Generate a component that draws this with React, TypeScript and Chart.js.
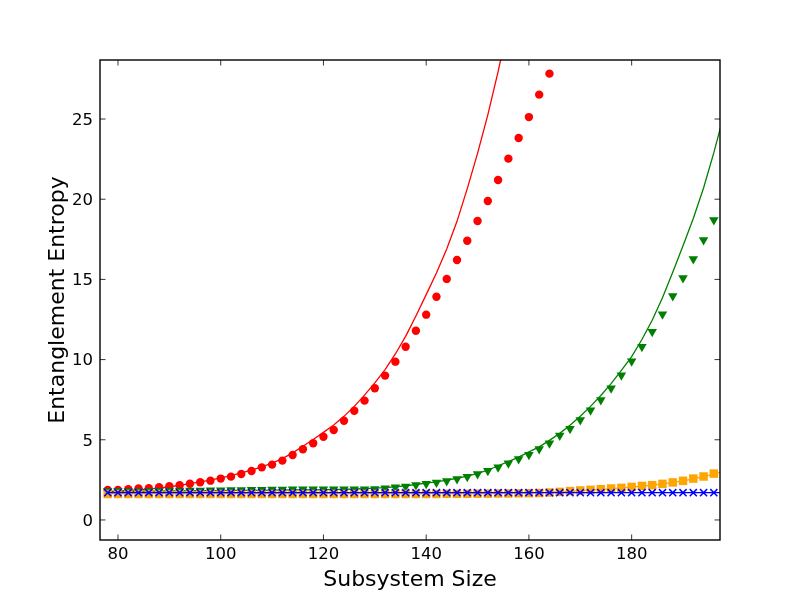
import React, { useEffect, useRef } from 'react';
import { Chart, registerables } from 'chart.js';

Chart.register(...registerables);

// ---- data ----
const xTicks = [80, 100, 120, 140, 160, 180];
const yTicks = [0, 5, 10, 15, 20, 25];

const sizes = [
  78, 80, 82, 84, 86, 88, 90, 92, 94, 96, 98, 100, 102, 104, 106, 108, 110, 112, 114, 116,
  118, 120, 122, 124, 126, 128, 130, 132, 134, 136, 138, 140, 142, 144, 146, 148, 150, 152, 154, 156,
  158, 160, 162, 164, 166, 168, 170, 172, 174, 176, 178, 180, 182, 184, 186, 188, 190, 192, 194, 196,
];
const fitSizes = [
  78, 80, 82, 84, 86, 88, 90, 92, 94, 96, 98, 100, 102, 104, 106, 108, 110, 112, 114, 116,
  118, 120, 122, 124, 126, 128, 130, 132, 134, 136, 138, 140, 142, 144, 146, 148, 150, 152, 154, 156,
  158, 160, 162, 164, 166, 168, 170, 172, 174, 176, 178, 180, 182, 184, 186, 188, 190, 192, 194, 196, 198,
];

const redPoints = [
  1.87, 1.87, 1.91, 1.96, 1.98, 2.04, 2.10, 2.16, 2.26, 2.35, 2.45, 2.58, 2.70, 2.87, 3.05, 3.28, 3.45, 3.70, 4.05, 4.41,
  4.78, 5.19, 5.61, 6.19, 6.81, 7.44, 8.21, 9.00, 9.87, 10.80, 11.80, 12.80, 13.92, 15.03, 16.21, 17.41, 18.64, 19.89, 21.20, 22.53,
  23.82, 25.12, 26.52, 27.83,
];
const redFit = [
  1.77, 1.80, 1.84, 1.88, 1.93, 1.99, 2.07, 2.16, 2.26, 2.37, 2.49, 2.62, 2.77, 2.93, 3.11, 3.31, 3.54, 3.82, 4.18, 4.60,
  5.02, 5.46, 5.92, 6.46, 7.08, 7.78, 8.55, 9.38, 10.35, 11.45, 12.72, 14.05, 15.40, 16.90, 18.62, 20.66, 22.86, 25.26, 27.96, 30.90,
];

const greenPoints = [
  1.80, 1.80, 1.81, 1.81, 1.82, 1.82, 1.83, 1.83, 1.84, 1.84, 1.85, 1.85, 1.86, 1.87, 1.88, 1.89, 1.90, 1.90, 1.91, 1.91,
  1.91, 1.91, 1.91, 1.91, 1.91, 1.92, 1.93, 1.98, 2.04, 2.08, 2.18, 2.26, 2.33, 2.43, 2.56, 2.70, 2.87, 3.07, 3.28, 3.53,
  3.80, 4.07, 4.43, 4.78, 5.26, 5.69, 6.23, 6.84, 7.48, 8.21, 9.02, 9.89, 10.80, 11.74, 12.82, 13.97, 15.09, 16.27, 17.46, 18.70,
];
const greenFit = [
  1.78, 1.78, 1.79, 1.79, 1.80, 1.80, 1.81, 1.81, 1.82, 1.82, 1.83, 1.83, 1.84, 1.84, 1.85, 1.85, 1.86, 1.86, 1.87, 1.87,
  1.88, 1.89, 1.90, 1.91, 1.93, 1.95, 1.98, 2.02, 2.07, 2.13, 2.21, 2.30, 2.38, 2.48, 2.60, 2.74, 2.90, 3.10, 3.38, 3.64,
  3.92, 4.24, 4.56, 4.96, 5.40, 5.90, 6.47, 7.08, 7.76, 8.50, 9.33, 10.18, 11.25, 12.45, 13.85, 15.45, 17.10, 18.80, 20.70, 22.90, 25.30,
];

const orangePoints = [
  1.62, 1.62, 1.62, 1.62, 1.62, 1.62, 1.62, 1.62, 1.62, 1.62, 1.62, 1.62, 1.62, 1.62, 1.62, 1.62, 1.62, 1.62, 1.62, 1.62,
  1.62, 1.62, 1.62, 1.62, 1.62, 1.62, 1.62, 1.62, 1.62, 1.62, 1.62, 1.62, 1.62, 1.63, 1.63, 1.63, 1.64, 1.64, 1.65, 1.65,
  1.66, 1.67, 1.68, 1.71, 1.75, 1.80, 1.84, 1.88, 1.92, 1.96, 2.00, 2.06, 2.12, 2.17, 2.25, 2.34, 2.44, 2.58, 2.71, 2.89,
];
const orangeFit = [
  1.64, 1.64, 1.64, 1.64, 1.64, 1.64, 1.64, 1.64, 1.64, 1.64, 1.64, 1.64, 1.64, 1.64, 1.64, 1.64, 1.64, 1.64, 1.64, 1.64,
  1.64, 1.64, 1.64, 1.64, 1.64, 1.64, 1.64, 1.64, 1.64, 1.64, 1.64, 1.64, 1.64, 1.64, 1.64, 1.65, 1.65, 1.65, 1.66, 1.67,
  1.67, 1.68, 1.70, 1.72, 1.75, 1.79, 1.83, 1.87, 1.91, 1.95, 2.00, 2.05, 2.11, 2.18, 2.25, 2.34, 2.44, 2.56, 2.70, 2.86, 3.04,
];

const bluePoints = [
  1.70, 1.70, 1.70, 1.70, 1.70, 1.70, 1.70, 1.70, 1.70, 1.70, 1.70, 1.70, 1.70, 1.70, 1.70, 1.70, 1.70, 1.70, 1.70, 1.70,
  1.70, 1.70, 1.70, 1.70, 1.70, 1.70, 1.70, 1.70, 1.70, 1.70, 1.70, 1.70, 1.70, 1.70, 1.70, 1.70, 1.70, 1.70, 1.70, 1.70,
  1.70, 1.70, 1.70, 1.70, 1.70, 1.70, 1.70, 1.70, 1.70, 1.70, 1.70, 1.70, 1.70, 1.70, 1.70, 1.70, 1.70, 1.70, 1.70, 1.70,
];
const blueFit = [
  1.70, 1.70, 1.70, 1.70, 1.70, 1.70, 1.70, 1.70, 1.70, 1.70, 1.70, 1.70, 1.70, 1.70, 1.70, 1.70, 1.70, 1.70, 1.70, 1.70,
  1.70, 1.70, 1.70, 1.70, 1.70, 1.70, 1.70, 1.70, 1.70, 1.70, 1.70, 1.70, 1.70, 1.70, 1.70, 1.70, 1.70, 1.70, 1.70, 1.70,
  1.70, 1.70, 1.70, 1.70, 1.70, 1.70, 1.70, 1.70, 1.70, 1.70, 1.70, 1.70, 1.70, 1.70, 1.70, 1.70, 1.70, 1.70, 1.70, 1.70, 1.70,
];

const xLabel = 'Subsystem Size';
const yLabel = 'Entanglement Entropy';

const pair = (xs: number[], ys: number[]) => ys.map((y, i) => ({ x: xs[i], y }));

const FONT = '"DejaVu Sans", "Liberation Sans", sans-serif';

const framePlugin = {
  id: 'mplFrame',
  afterDraw(chart: any) {
    const { ctx, chartArea, scales } = chart;
    const { left, right, top, bottom } = chartArea;
    const tl = 5.5;
    ctx.save();
    ctx.strokeStyle = '#000';
    ctx.lineWidth = 0.8;
    ctx.beginPath();
    for (const v of xTicks) {
      const px = scales.x.getPixelForValue(v);
      ctx.moveTo(px, bottom);
      ctx.lineTo(px, bottom - tl);
      ctx.moveTo(px, top);
      ctx.lineTo(px, top + tl);
    }
    for (const v of yTicks) {
      const py = scales.y.getPixelForValue(v);
      ctx.moveTo(left, py);
      ctx.lineTo(left + tl, py);
      ctx.moveTo(right, py);
      ctx.lineTo(right - tl, py);
    }
    ctx.stroke();
    ctx.lineWidth = 1.4;
    ctx.strokeRect(left, top, right - left, bottom - top);
    ctx.restore();
  },
};

export default function App() {
  const ref = useRef<HTMLCanvasElement | null>(null);

  useEffect(() => {
    if (!ref.current) return;
    const lineDs = (ys: number[], xs: number[], color: string, order: number) => ({
      data: pair(xs, ys),
      showLine: true,
      borderColor: color,
      backgroundColor: color,
      borderWidth: 1.3,
      pointRadius: 0,
      pointHoverRadius: 0,
      fill: false,
      tension: 0,
      order,
    });
    const chart = new Chart(ref.current, {
      type: 'scatter',
      data: {
        datasets: [
          lineDs(redFit, fitSizes, '#ff0000', 8),
          {
            data: pair(sizes, redPoints),
            pointStyle: 'circle',
            pointRadius: 4.2,
            backgroundColor: '#ff0000',
            borderColor: '#ff0000',
            borderWidth: 0,
            order: 7,
          },
          lineDs(greenFit, fitSizes, '#008000', 6),
          {
            data: pair(sizes, greenPoints),
            pointStyle: 'triangle',
            rotation: 180,
            pointRadius: 5.5,
            backgroundColor: '#008000',
            borderColor: '#008000',
            borderWidth: 0,
            order: 5,
          },
          lineDs(orangeFit, fitSizes, '#ffa500', 4),
          {
            data: pair(sizes, orangePoints),
            pointStyle: 'rect',
            pointRadius: 6,
            backgroundColor: '#ffa500',
            borderColor: '#ffa500',
            borderWidth: 0,
            order: 3,
          },
          lineDs(blueFit, fitSizes, '#0000ff', 2),
          {
            data: pair(sizes, bluePoints),
            pointStyle: 'crossRot',
            pointRadius: 5,
            backgroundColor: '#0000ff',
            borderColor: '#0000ff',
            borderWidth: 1.5,
            order: 1,
          },
        ] as any,
      },
      options: {
        responsive: false,
        animation: false,
        events: [],
        layout: { padding: { top: 60, right: 80, left: 0, bottom: 0 } },
        plugins: { legend: { display: false }, tooltip: { enabled: false } },
        scales: {
          x: {
            type: 'linear',
            min: 76.5,
            max: 197.2,
            grid: { display: false, drawTicks: false },
            border: { display: false },
            afterBuildTicks: (s: any) => {
              s.ticks = xTicks.map((v) => ({ value: v }));
            },
            afterFit: (s: any) => {
              s.height = 60;
            },
            ticks: {
              color: '#000',
              padding: 5,
              maxRotation: 0,
              font: { family: FONT, size: 16.5 },
              callback: (v: any) => String(v),
            },
            title: {
              display: true,
              text: xLabel,
              color: '#000',
              font: { family: FONT, size: 22 },
              padding: { top: 0, bottom: 7 },
            },
          },
          y: {
            type: 'linear',
            min: -1.25,
            max: 28.68,
            grid: { display: false, drawTicks: false },
            border: { display: false },
            afterBuildTicks: (s: any) => {
              s.ticks = yTicks.map((v) => ({ value: v }));
            },
            afterFit: (s: any) => {
              s.width = 100;
            },
            ticks: {
              color: '#000',
              padding: 7,
              labelOffset: 1.5,
              font: { family: FONT, size: 16.5 },
              callback: (v: any) => String(v),
            },
            title: {
              display: true,
              text: yLabel,
              color: '#000',
              font: { family: FONT, size: 22 },
              padding: { top: 45, bottom: 0 },
            },
          },
        },
      },
      plugins: [framePlugin],
    });
    return () => chart.destroy();
  }, []);

  return (
    <div style={{ position: 'absolute', left: 0, top: 0, width: 800, height: 600, background: '#fff' }}>
      <canvas ref={ref} width={800} height={600} style={{ width: 800, height: 600, display: 'block' }} />
    </div>
  );
}
